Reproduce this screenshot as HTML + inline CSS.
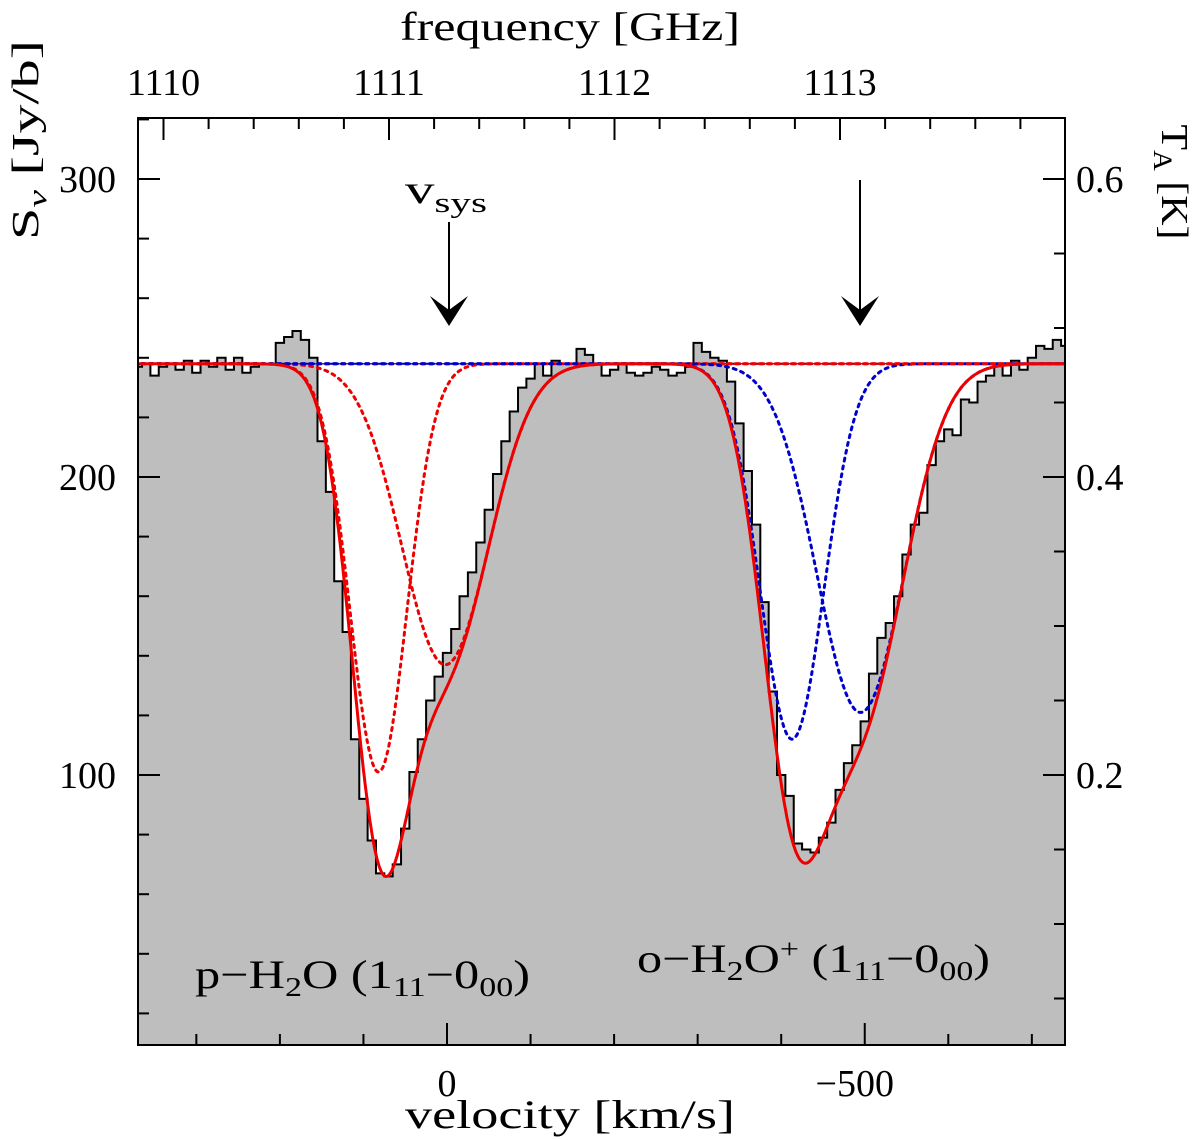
<!DOCTYPE html>
<html><head><meta charset="utf-8">
<style>
html,body{margin:0;padding:0;background:#fff;}
svg{display:block;font-family:"Liberation Serif","DejaVu Serif",serif;}
</style></head>
<body>
<svg id="chart" width="1200" height="1140" viewBox="0 0 1200 1140" xmlns="http://www.w3.org/2000/svg">
<g id="plot"></g>
<g id="axes"></g>
</svg>
<script>
// ---- data ----
const velocities = [];
for (let i = 0; i < 112; i++) velocities.push(370 - 10 * i);
const flux = [237,238,234,237,238,236,239,235,239,237,240,236,240,235,237,238,238,245,247,249,246,240,
212,195,165,148,112,92,78,67,66,70,82,101,112,125,133,141,149,160,168,178,189,201,212,222,230,233,238,234,239,238,238,243,241,238,234,236,238,235,234,235,
237,236,234,235,237,245,242,240,239,232,218,202,184,158,128,100,93,77,75,74,79,84,95,104,110,118,134,146,151,160,174,184,188,204,212,216,214,226,225,232,234,238,234,239,236,240,244,243,246,244];
const continuum = 238;
const redCenters = [82, 2];
const redAmps = [137, 101];
const redSigmas = [34, 52];
const blueCenters = [-413, -495];
const blueAmps = [126, 117];
const blueSigmas = [38, 52];
const leftMajor = [100, 200, 300];
const rightMajor = [0.2, 0.4, 0.6];
const velTicks = [0, -500];
const freqTicks = [1110, 1111, 1112, 1113];

// ---- axes functions ----
const L = 138, R = 1065, T = 118, B = 1045;
const xv = v => 447 - v * 0.8355;
const yf = f => 179 + (300 - f) * 2.98;
const yT = t => yf(t * 500);
const xfreq = g => 389 + (g - 1111) * 225.5;
const NS = 'http://www.w3.org/2000/svg';
const plot = document.getElementById('plot');
const axes = document.getElementById('axes');
function mk(tag, attrs, parent) {
  const e = document.createElementNS(NS, tag);
  for (const k in attrs) e.setAttribute(k, attrs[k]);
  parent.appendChild(e);
  return e;
}
const defs = mk('defs', {}, plot);
const cp = mk('clipPath', {id: 'clip'}, defs);
mk('rect', {x: L, y: T, width: R - L, height: B - T}, cp);
const g = mk('g', {'clip-path': 'url(#clip)'}, plot);

// histogram
let d = '', dl = '';
for (let i = 0; i < velocities.length; i++) {
  const x0 = xv(velocities[i] + 5), x1 = xv(velocities[i] - 5), y = yf(flux[i]);
  if (i === 0) { d += `M${x0},${B} L${x0},${y} `; dl += `M${x0},${y} `; }
  else { d += `L${x0},${y} `; dl += `L${x0},${y} `; }
  d += `L${x1},${y} `; dl += `L${x1},${y} `;
  if (i === velocities.length - 1) d += `L${x1},${B} Z`;
}
const hf = mk('path', {d: d, fill: '#bebebe', stroke: 'none'}, g);


const hl = mk('path', {d: dl, fill: 'none', stroke: '#000', 'stroke-width': 2}, g);



function gauss(v, c, a, s) { return a * Math.exp(-((v - c) ** 2) / (2 * s * s)); }
function curve(fn) {
  let p = '';
  for (let v = 375; v >= -745; v -= 1) p += (p ? 'L' : 'M') + xv(v).toFixed(1) + ',' + yf(fn(v)).toFixed(1);
  return p;
}
const cb = mk('line', {x1: L, x2: R, y1: yf(continuum), y2: yf(continuum), stroke: '#0000cc', 'stroke-width': 2, 'stroke-dasharray': '3,3'}, g);


const cr = mk('line', {x1: L, x2: R, y1: yf(continuum), y2: yf(continuum), stroke: '#ee0000', 'stroke-width': 1.5, 'stroke-dasharray': '3,3', 'stroke-dashoffset': 3}, g);


for (let k = 0; k < 2; k++) {
  const c = mk('path', {d: curve(v => continuum - gauss(v, redCenters[k], redAmps[k], redSigmas[k])), fill: 'none', stroke: '#ee0000', 'stroke-width': 3, 'stroke-dasharray': '3,5', 'stroke-linecap': 'round'}, g);
  
  
  const b = mk('path', {d: curve(v => continuum - gauss(v, blueCenters[k], blueAmps[k], blueSigmas[k])), fill: 'none', stroke: '#0000cc', 'stroke-width': 3, 'stroke-dasharray': '3,5', 'stroke-linecap': 'round'}, g);
  
  
}
const tot = mk('path', {d: curve(v => continuum
  - gauss(v, redCenters[0], redAmps[0], redSigmas[0]) - gauss(v, redCenters[1], redAmps[1], redSigmas[1])
  - gauss(v, blueCenters[0], blueAmps[0], blueSigmas[0]) - gauss(v, blueCenters[1], blueAmps[1], blueSigmas[1])),
  fill: 'none', stroke: '#ee0000', 'stroke-width': 3}, g);



// frame
const fr = mk('rect', {x: L, y: T, width: R - L, height: B - T, fill: 'none', stroke: '#000', 'stroke-width': 2}, axes);


function tick(x1, y1, x2, y2) { mk('line', {x1, y1, x2, y2, stroke: '#000', 'stroke-width': 2}, axes); }
function text(str, x, y, anchor, size, name, len) {
  const t = mk('text', {x, y, 'text-anchor': anchor, 'font-size': size, fill: '#000'}, axes);
  if (len) { t.setAttribute('textLength', len); t.setAttribute('lengthAdjust', 'spacingAndGlyphs'); }
  t.textContent = str;
  
  
  return t;
}
for (let f = 20; f <= 320; f += 20) {
  const y = yf(f); if (y < T || y > B) continue;
  const maj = f % 100 === 0;
  tick(L, y, L + (maj ? 22 : 11), y);
}
leftMajor.forEach(f => text(String(f), 116, yf(f) + 13, 'end', 38, 'left-tick-label'));
for (let t = 0.05; t <= 0.65; t += 0.05) {
  const y = yT(t); if (y < T || y > B) continue;
  const maj = Math.abs(t * 10 - Math.round(t * 10)) < 1e-6 && Math.round(t * 10) % 2 === 0;
  tick(R, y, R - (maj ? 22 : 11), y);
}
rightMajor.forEach(t => text(t.toFixed(1), 1076, yT(t) + 13, 'start', 38, 'right-tick-label'));
for (let v = 300; v >= -700; v -= 100) {
  const x = xv(v); const maj = v % 500 === 0;
  tick(x, B, x, B - (maj ? 22 : 11));
}
velTicks.forEach(v => text(v === 0 ? '0' : '\u2212' + Math.abs(v), xv(v) - (v < 0 ? 10 : 0), 1096, 'middle', 38, 'velocity-tick-label'));
for (let f = 1110; f <= 1113.81; f += 0.2) {
  const x = xfreq(f); if (x < L || x > R) continue;
  const maj = Math.abs(f - Math.round(f)) < 1e-6;
  tick(x, T, x, T + (maj ? 22 : 11));
}
freqTicks.forEach(f => text(String(f), xfreq(f), 95, 'middle', 38, 'frequency-tick-label'));
text('frequency [GHz]', 570, 40, 'middle', 40, 'top-axis-title', 340);
text('velocity [km/s]', 570, 1128, 'middle', 40, 'x-axis-title', 330);
const yl = text('', 0, 0, 'middle', 38, 'y-axis-title', 200);
yl.setAttribute('transform', 'translate(38,140) rotate(-90)');
yl.innerHTML = 'S<tspan font-size="26" dy="8" font-style="italic">ν</tspan><tspan dy="-8"> [Jy/b]</tspan>';
const yr = text('', 0, 0, 'middle', 38, 'right-axis-title', 115);
yr.setAttribute('transform', 'translate(1162,182) rotate(90)');
yr.innerHTML = 'T<tspan font-size="26" dy="8">A</tspan><tspan dy="-8"> [K]</tspan>';
const vs = text('', 446, 203, 'middle', 40, 'vsys-label', 82);
vs.innerHTML = 'v<tspan font-size="28" dy="9">sys</tspan>';
function arrow(x, y1, y2, name) {
  const a = mk('g', {}, axes);
  
  
  mk('line', {x1: x, y1: y1, x2: x, y2: y2 - 6, stroke: '#000', 'stroke-width': 2}, a);
  mk('path', {d: `M${x},${y2} L${x - 19},${y2 - 30} L${x},${y2 - 16} L${x + 19},${y2 - 30} Z`, fill: '#000'}, a);
}
arrow(449, 222, 326, 'vsys-arrow-h2o');
arrow(860, 180, 326, 'vsys-arrow-h2o-plus');
const l1 = text('', 195, 988, 'start', 40, 'label-p-h2o', 335);
l1.innerHTML = 'p\u2212H<tspan font-size="27" dy="8">2</tspan><tspan dy="-8">O  (1</tspan><tspan font-size="27" dy="8">11</tspan><tspan dy="-8">\u22120</tspan><tspan font-size="27" dy="8">00</tspan><tspan dy="-8">)</tspan>';
const l2 = text('', 637, 972, 'start', 40, 'label-o-h2o-plus', 353);
l2.innerHTML = 'o\u2212H<tspan font-size="27" dy="8">2</tspan><tspan dy="-8">O</tspan><tspan font-size="27" dy="-14">+</tspan><tspan dy="14">  (1</tspan><tspan font-size="27" dy="8">11</tspan><tspan dy="-8">\u22120</tspan><tspan font-size="27" dy="8">00</tspan><tspan dy="-8">)</tspan>';
</script>
</body></html>
